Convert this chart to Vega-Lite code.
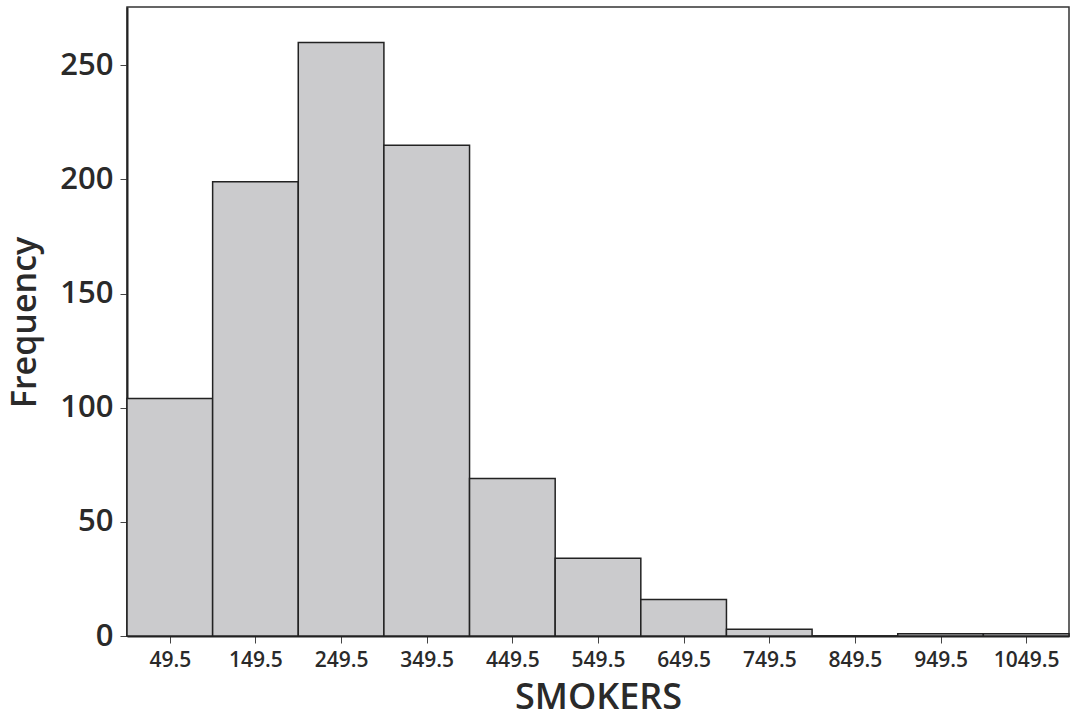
{
  "$schema": "https://vega.github.io/schema/vega-lite/v6.json",
  "width": 942,
  "height": 629,
  "autosize": {"type": "none"},
  "padding": {"left": 127, "top": 7, "right": 8, "bottom": 82},
  "background": "white",
  "config": {
    "font": "Open Sans",
    "view": {"stroke": "#333333", "strokeWidth": 1.5}
  },
  "data": {
    "values": [
      {"bin_start": -0.5, "bin_end": 99.5, "count": 104},
      {"bin_start": 99.5, "bin_end": 199.5, "count": 199},
      {"bin_start": 199.5, "bin_end": 299.5, "count": 260},
      {"bin_start": 299.5, "bin_end": 399.5, "count": 215},
      {"bin_start": 399.5, "bin_end": 499.5, "count": 69},
      {"bin_start": 499.5, "bin_end": 599.5, "count": 34},
      {"bin_start": 599.5, "bin_end": 699.5, "count": 16},
      {"bin_start": 699.5, "bin_end": 799.5, "count": 3},
      {"bin_start": 799.5, "bin_end": 899.5, "count": 0},
      {"bin_start": 899.5, "bin_end": 999.5, "count": 1},
      {"bin_start": 999.5, "bin_end": 1099.5, "count": 1}
    ]
  },
  "mark": {"type": "bar", "orient": "vertical", "fill": "#cbcbcd", "stroke": "#222222", "strokeWidth": 1.5},
  "encoding": {
    "x": {
      "field": "bin_start",
      "type": "quantitative",
      "scale": {"domain": [-0.5, 1099.5], "nice": false, "zero": false, "padding": 0},
      "axis": {
        "values": [49.5, 149.5, 249.5, 349.5, 449.5, 549.5, 649.5, 749.5, 849.5, 949.5, 1049.5],
        "format": ".1f",
        "grid": false,
        "domainColor": "#222222",
        "domainWidth": 2,
        "tickColor": "#444444",
        "tickSize": 7,
        "labelFontSize": 21,
        "labelFontWeight": 600,
        "labelColor": "#2a2a2a",
        "labelPadding": 6,
        "labelFlush": false,
        "title": "SMOKERS",
        "titleFontSize": 36,
        "titleFontWeight": 600,
        "titleColor": "#2a2a2a",
        "titleX": 471,
        "titleY": 61,
        "titleBaseline": "middle",
        "titleAlign": "center"
      }
    },
    "x2": {"field": "bin_end"},
    "y": {
      "field": "count",
      "type": "quantitative",
      "scale": {"domain": [0, 275.5], "nice": false, "padding": 0},
      "axis": {
        "values": [0, 50, 100, 150, 200, 250],
        "grid": false,
        "domainColor": "#222222",
        "domainWidth": 2,
        "tickColor": "#444444",
        "tickSize": 7,
        "labelFontSize": 31,
        "labelFontWeight": 600,
        "labelColor": "#2a2a2a",
        "labelPadding": 7,
        "labelFlush": false,
        "title": "Frequency",
        "titleFontSize": 34,
        "titleFontWeight": 600,
        "titleColor": "#2a2a2a",
        "titleX": -102,
        "titleY": 315,
        "titleAngle": -90,
        "titleBaseline": "middle",
        "titleAlign": "center"
      }
    },
    "y2": {"datum": 0}
  }
}
